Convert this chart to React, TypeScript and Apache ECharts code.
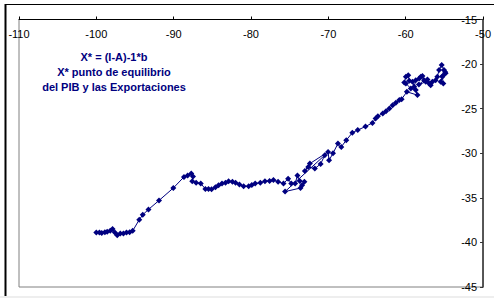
import React, { useEffect, useRef } from "react";
import * as echarts from "echarts";

const xTicks = { min: -110, max: -50, interval: 10 };
const yTicks = { min: -45, max: -15, interval: 5 };

const titleLines = ["X* = (I-A)-1*b", "X* punto de equilibrio", "del PIB y las Exportaciones"];

const xValues = [
  -100.0, -99.6, -99.3, -98.9, -98.6, -98.2, -97.9, -97.6, -97.3, -96.9, -96.5, -96.1, -95.7, -95.3,
  -94.45, -94.0, -93.26, -91.9, -90.05, -88.67, -88.2, -87.73, -87.5, -87.6, -87.1, -86.5, -85.9,
  -85.5, -85.1, -84.6, -84.2, -83.75, -83.3, -82.9, -82.4, -82.0, -81.5, -80.96, -80.3, -79.9,
  -79.46, -78.8, -78.2, -77.6, -77.1, -76.5, -75.8, -75.2, -74.8, -74.3, -74.0, -73.7, -73.4,
  -73.1, -73.6, -75.6, -70.47, -71.0, -71.75, -72.6, -73.04, -72.39, -70.04, -69.91, -69.4,
  -68.76, -68.33, -67.69, -66.9, -66.2, -65.2, -64.3, -63.9, -63.6, -62.97, -62.55, -62.11,
  -61.69, -61.27, -60.83, -60.53, -59.85, -58.48, -58.7, -59.34, -59.98, -60.19, -59.98, -59.67,
  -59.54, -59.12, -58.9, -58.7, -58.26, -58.05, -57.84, -57.62, -58.3, -57.41, -57.19, -56.97,
  -56.77, -56.55, -56.13, -55.91, -55.69, -55.35, -55.05, -54.84, -55.27, -55.14, -55.48, -55.2,
  -54.9,
];

const yValues = [
  -38.9, -38.9, -38.95, -38.85, -38.8, -38.7, -38.5, -38.9, -39.2, -39.0, -39.0, -38.9, -38.85, -38.7,
  -37.45, -36.9, -36.3, -35.3, -33.9, -32.66, -32.5, -32.28, -32.6, -33.15, -33.3, -33.4, -34.0,
  -34.0, -34.05, -33.8, -33.6, -33.4, -33.3, -33.15, -33.2, -33.3, -33.5, -33.7, -33.7, -33.55,
  -33.4, -33.3, -33.15, -33.1, -33.0, -33.2, -33.4, -32.85, -33.4, -33.4, -32.5, -33.1, -33.6,
  -33.2, -33.9, -34.3, -30.22, -31.2, -31.72, -31.54, -31.99, -31.16, -29.85, -30.79, -30.0,
  -28.91, -29.29, -28.54, -27.7, -27.4, -27.0, -26.6, -26.1, -25.84, -25.54, -25.28, -24.98,
  -24.61, -24.35, -24.04, -23.93, -23.11, -23.48, -22.92, -22.73, -22.17, -22.06, -21.43, -21.24,
  -21.88, -21.99, -22.55, -21.8, -21.61, -21.43, -21.35, -21.8, -22.3, -21.99, -21.72, -22.17,
  -22.36, -21.99, -21.8, -21.43, -20.67, -20.11, -20.67, -21.04, -21.43, -22.17, -21.99, -21.3,
  -20.9,
];

const NAVY = "#000080";
const FONT = "'Liberation Sans', Arial, sans-serif";

export default function App() {
  const ref = useRef<HTMLDivElement>(null);
  useEffect(() => {
    if (!ref.current) return;
    const chart = echarts.init(ref.current, undefined, { renderer: "svg" });
    const data = xValues.map((x, i) => [x, yValues[i]]);
    chart.setOption({
      animation: false,
      backgroundColor: "#fff",
      grid: {
        left: 19,
        top: 19.5,
        right: 8,
        bottom: 11,
        show: true,
        borderColor: "#808080",
        borderWidth: 1,
        backgroundColor: "#fff",
      },
      xAxis: {
        type: "value",
        position: "top",
        min: xTicks.min,
        max: xTicks.max,
        interval: xTicks.interval,
        splitLine: { show: false },
        axisLine: { show: true, onZero: false, lineStyle: { color: "#000", width: 1 } },
        axisTick: { show: true, inside: false, length: 3, lineStyle: { color: "#000" } },
        axisLabel: {
          inside: true,
          margin: 9,
          fontSize: 11,
          color: "#000",
          fontFamily: FONT,
          showMinLabel: true,
          showMaxLabel: true,
        },
      },
      yAxis: {
        type: "value",
        position: "right",
        min: yTicks.min,
        max: yTicks.max,
        interval: yTicks.interval,
        splitLine: { show: false },
        axisLine: { show: true, onZero: false, lineStyle: { color: "#333", width: 1.5 } },
        axisTick: { show: true, inside: true, length: 3, lineStyle: { color: "#333" } },
        axisLabel: {
          inside: true,
          margin: 6,
          fontSize: 11,
          color: "#000",
          fontFamily: FONT,
          showMinLabel: true,
          showMaxLabel: true,
        },
      },
      series: [
        {
          type: "line",
          data,
          symbol: "diamond",
          symbolSize: 6,
          showSymbol: true,
          lineStyle: { color: NAVY, width: 1 },
          itemStyle: { color: NAVY },
        },
      ],
      graphic: [
        {
          type: "line",
          shape: { x1: 5, y1: 4.5, x2: 494, y2: 4.5 },
          style: { stroke: "#000", lineWidth: 1 },
          z: 100,
        },
        {
          type: "line",
          shape: { x1: 5.5, y1: 4, x2: 5.5, y2: 296 },
          style: { stroke: "#000", lineWidth: 2 },
          z: 100,
        },
        {
          type: "rect",
          shape: { x: 0, y: 296, width: 494, height: 2 },
          style: { fill: "#eeeeee" },
          z: 100,
        },
        ...titleLines.map((t, i) => ({
          type: "text",
          x: 114,
          y: 57 + i * 15,
          z: 100,
          style: {
            text: t,
            fill: NAVY,
            font: `bold 11px ${FONT}`,
            textAlign: "center",
            textVerticalAlign: "middle",
          },
        })),
      ],
    });
    return () => chart.dispose();
  }, []);
  return (
    <div
      ref={ref}
      style={{ position: "absolute", left: 0, top: 0, width: 494, height: 298 }}
    />
  );
}
